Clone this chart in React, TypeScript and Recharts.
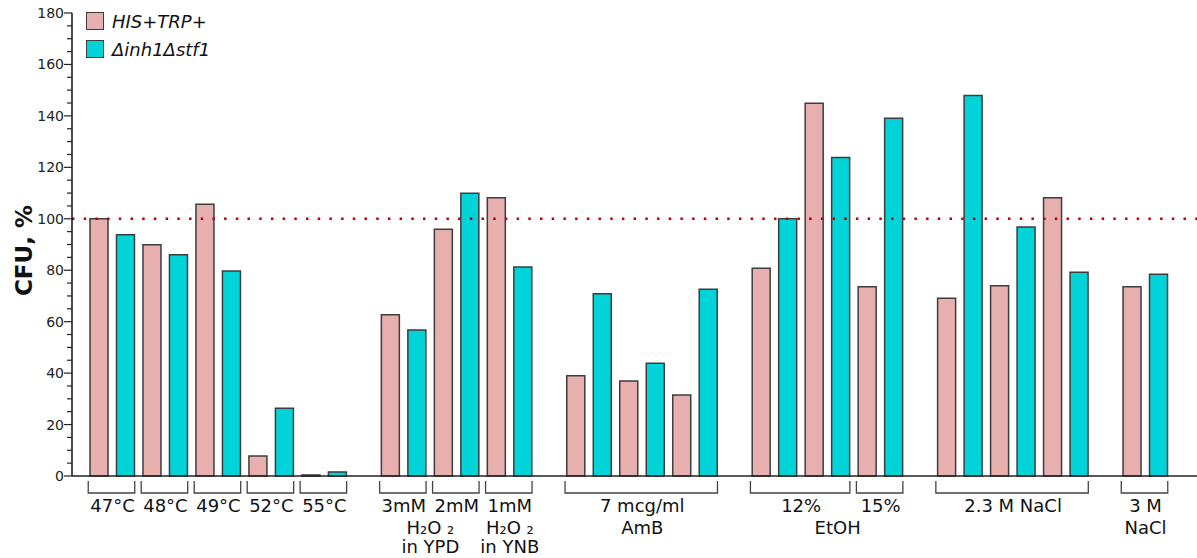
import { BarChart, Bar, XAxis, YAxis, ReferenceLine, Legend } from 'recharts'

const FONT = '"DejaVu Sans", Verdana, sans-serif'
const W = 1197
const H = 558
const LEFT = 72
const PAD_L = 14
const PAD_R = 25

const PINK = '#E8AFAF'
const CYAN = '#00D4D9'
const EDGE = '#3d3d3d'

// one entry per condition (a pink + cyan pair)
const conditions = [
  '47°C', '48°C', '49°C', '52°C', '55°C',
  'H2O2 3mM YPD', 'H2O2 2mM YPD', 'H2O2 1mM YNB',
  'AmB 1', 'AmB 2', 'AmB 3',
  'EtOH 12% 1', 'EtOH 12% 2', 'EtOH 15%',
  'NaCl 2.3M 1', 'NaCl 2.3M 2', 'NaCl 2.3M 3',
  'NaCl 3M',
]
const wildType = [100, 89.9, 105.6, 7.8, 0.4, 62.7, 95.9, 108.2, 39.0, 36.9, 31.5, 80.8, 144.9, 73.6, 69.1, 74.0, 108.2, 73.6]
const mutant = [93.8, 86.0, 79.7, 26.3, 1.6, 56.8, 109.9, 81.3, 70.9, 43.8, 72.6, 100.0, 123.8, 139.1, 147.9, 96.8, 79.2, 78.4]

// bracket groups under the axis (size = number of conditions)
const groupLabels = ['47°C', '48°C', '49°C', '52°C', '55°C', '3mM', '2mM', '1mM', '7 mcg/ml', '12%', '15%', '2.3 M NaCl', '3 M']
const groupSizes = [1, 1, 1, 1, 1, 1, 1, 1, 3, 2, 1, 3, 1]
const gapAfterGroup = [4, 7, 8, 10, 11]

// captions spanning one or more groups
const captions = [
  { from: 5, to: 6, lines: ['H₂O ₂', 'in YPD'] },
  { from: 7, to: 7, lines: ['H₂O ₂', 'in YNB'] },
  { from: 8, to: 8, lines: ['AmB'] },
  { from: 9, to: 10, lines: ['EtOH'] },
  { from: 12, to: 12, lines: ['NaCl'] },
]

const majorTicks = [0, 20, 40, 60, 80, 100, 120, 140, 160, 180]
const yTicks = Array.from({ length: 37 }, (_, i) => i * 5)

type Row = { key: string; wt: number | null; mut: number | null }
const rows: Row[] = []
const groupStart: number[] = []
const groupSlots: number[] = []
let ci = 0
groupSizes.forEach((size, g) => {
  groupStart.push(rows.length)
  for (let k = 0; k < size; k++, ci++) {
    rows.push({ key: `${conditions[ci]}|wt`, wt: wildType[ci], mut: null })
    rows.push({ key: `${conditions[ci]}|mut`, wt: null, mut: mutant[ci] })
  }
  groupSlots.push(size * 2)
  if (gapAfterGroup.includes(g)) rows.push({ key: `gap${g}`, wt: null, mut: null })
})

const SLOT = (W - LEFT - PAD_L - PAD_R) / rows.length

function GroupTick(props: any) {
  const { x, y } = props
  const index = props.index ?? props.payload?.index
  const g = groupStart.indexOf(index)
  if (g < 0) return <g />
  const span = (groupSlots[g] - 1) * SLOT
  const caps = captions.filter(c => c.from === g)
  return (
    <g>
      <path
        d={`M${x - 11},${y + 5} V${y + 17} H${x + span + 9} V${y + 5}`}
        fill="none" stroke="#444" strokeWidth={1.3}
      />
      <text x={x + span / 2} y={y + 36} textAnchor="middle" fontSize={18} fill="#111" fontFamily={FONT}>
        {groupLabels[g]}
      </text>
      {caps.map((c, i) => {
        const last = groupStart[c.to] + groupSlots[c.to] - 1
        const cx = x + ((last - groupStart[c.from]) * SLOT) / 2 + (c.from === 9 ? 10 : 0)
        return c.lines.map((line, j) => (
          <text key={`${i}-${j}`} x={cx} y={y + 58 + j * 19} textAnchor="middle" fontSize={18} fill="#111" fontFamily={FONT}>
            {line}
          </text>
        ))
      })}
    </g>
  )
}

function ValueTick({ x, y, payload }: any) {
  const major = majorTicks.includes(payload.value)
  return (
    <g>
      <line x1={x - (major ? 8 : 5)} x2={x} y1={y} y2={y} stroke="#222" strokeWidth={1.2} />
      {major && (
        <text x={x - 8} y={y} textAnchor="end" dominantBaseline="central" fontSize={14} fill="#222" fontFamily={FONT}>
          {payload.value}
        </text>
      )}
    </g>
  )
}

function YTitle({ viewBox }: any) {
  const cy = viewBox.y + viewBox.height / 2 + 6
  return (
    <text
      x={24} y={cy} transform={`rotate(-90 24 ${cy})`}
      textAnchor="middle" dominantBaseline="central"
      fontSize={23} fontWeight="bold" fill="#111" fontFamily={FONT}
    >
      CFU, %
    </text>
  )
}

function LegendBox({ payload }: any) {
  return (
    <div style={{ fontFamily: FONT, fontSize: 18, fontStyle: 'italic', color: '#111' }}>
      {(payload ?? []).map((p: any) => (
        <div key={p.value} style={{ display: 'flex', alignItems: 'center', height: 28 }}>
          <span style={{
            width: 16, height: 16, background: p.color, border: `1px solid ${EDGE}`,
            marginRight: 8, display: 'inline-block',
          }} />
          {p.value}
        </div>
      ))}
    </div>
  )
}

export default function App() {
  return (
    <div style={{ position: 'absolute', left: 0, top: 0, width: W, height: H, background: '#fff' }}>
      <BarChart width={W} height={H} data={rows} margin={{ top: 13, right: 0, bottom: 0, left: 0 }} barSize={18}>
        <XAxis
          dataKey="key" interval={0} height={82} tickSize={0} tickMargin={0} tickLine={false}
          padding={{ left: PAD_L, right: PAD_R }}
          axisLine={{ stroke: '#222', strokeWidth: 1.5 }}
          tick={<GroupTick />}
        />
        <YAxis
          width={LEFT} domain={[0, 180]} ticks={yTicks} interval={0} tickSize={0} tickMargin={0}
          tickLine={false} axisLine={{ stroke: '#111', strokeWidth: 1.5 }}
          tick={<ValueTick />} label={<YTitle />}
        />
        <Legend
          layout="horizontal" verticalAlign="middle" align="center"
          wrapperStyle={{ position: 'absolute', left: 86, top: 7, width: 'auto' }}
          content={<LegendBox />}
        />
        <ReferenceLine y={100} stroke="#C00000" strokeWidth={2.5} strokeDasharray="2.5 9.2" />
        <Bar dataKey="wt" name="HIS+TRP+" stackId="s" fill={PINK} stroke={EDGE} strokeWidth={1.5} isAnimationActive={false} />
        <Bar dataKey="mut" name="Δinh1Δstf1" stackId="s" fill={CYAN} stroke={EDGE} strokeWidth={1.5} isAnimationActive={false} />
      </BarChart>
    </div>
  )
}
